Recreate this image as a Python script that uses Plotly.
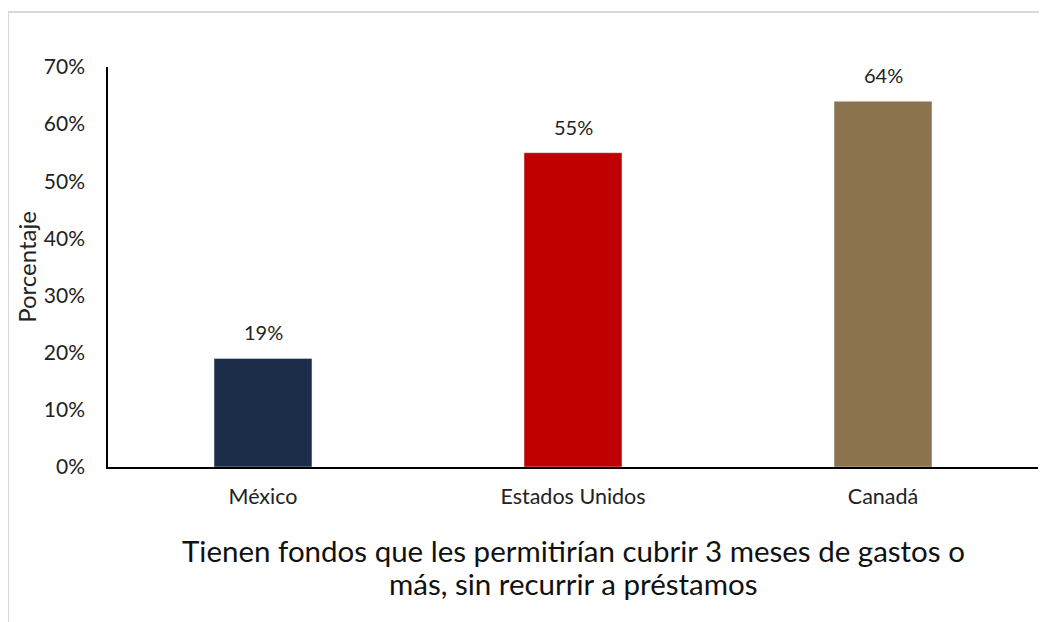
import plotly.graph_objects as go

categories = ["México", "Estados Unidos", "Canadá"]
values = [19, 55, 64]
labels = ["19%", "55%", "64%"]
colors = ["#1B2D48", "#C00000", "#8B734D"]
tick_vals = [0, 10, 20, 30, 40, 50, 60, 70]
tick_text = ["0%", "10%", "20%", "30%", "40%", "50%", "60%", "70%"]
title_lines = ["Tienen fondos que les permitirían cubrir 3 meses de gastos o",
               "más, sin recurrir a préstamos"]

FONT = "Lato"

fig = go.Figure(go.Bar(
    x=categories, y=values, marker_color=colors, width=0.316,
))

annotations = [dict(x=c, y=v, text=t, xref="x", yref="y", showarrow=False,
                    xanchor="center", yanchor="bottom", yshift=12,
                    font=dict(family=FONT, size=20, color="#222"))
               for c, v, t in zip(categories, values, labels)]
for i, (line, ypos) in enumerate(zip(title_lines, [-0.2075, -0.29])):
    annotations.append(dict(text=line, xref="paper", yref="paper", x=0.5, y=ypos,
                            xanchor="center", yanchor="middle", showarrow=False,
                            font=dict(family=FONT, size=29.5, color="#111")))

fig.update_layout(
    width=1047, height=622,
    margin=dict(l=100, r=17, t=59, b=163),
    paper_bgcolor="white", plot_bgcolor="white",
    showlegend=False,
    font=dict(family=FONT, size=20, color="#222"),
    xaxis=dict(showline=True, linecolor="#000", linewidth=1.5, showgrid=False,
               ticks="", tickfont=dict(size=21.5), ticklabelstandoff=9),
    yaxis=dict(range=[0, 70], tickvals=tick_vals, ticktext=tick_text,
               showline=True, linecolor="#000", linewidth=1.5, showgrid=False,
               zeroline=False, ticks="", tickfont=dict(size=21),
               ticklabelstandoff=17,
               title=dict(text="Porcentaje", font=dict(size=24), standoff=0)),
    shapes=[dict(type="rect", xref="paper", yref="paper",
                 x0=-0.1075, x1=1.05, y0=-0.45, y1=1.1375,
                 line=dict(color="#D9D9D9", width=2), layer="below")],
    annotations=annotations,
)

fig.write_html("out.html")
